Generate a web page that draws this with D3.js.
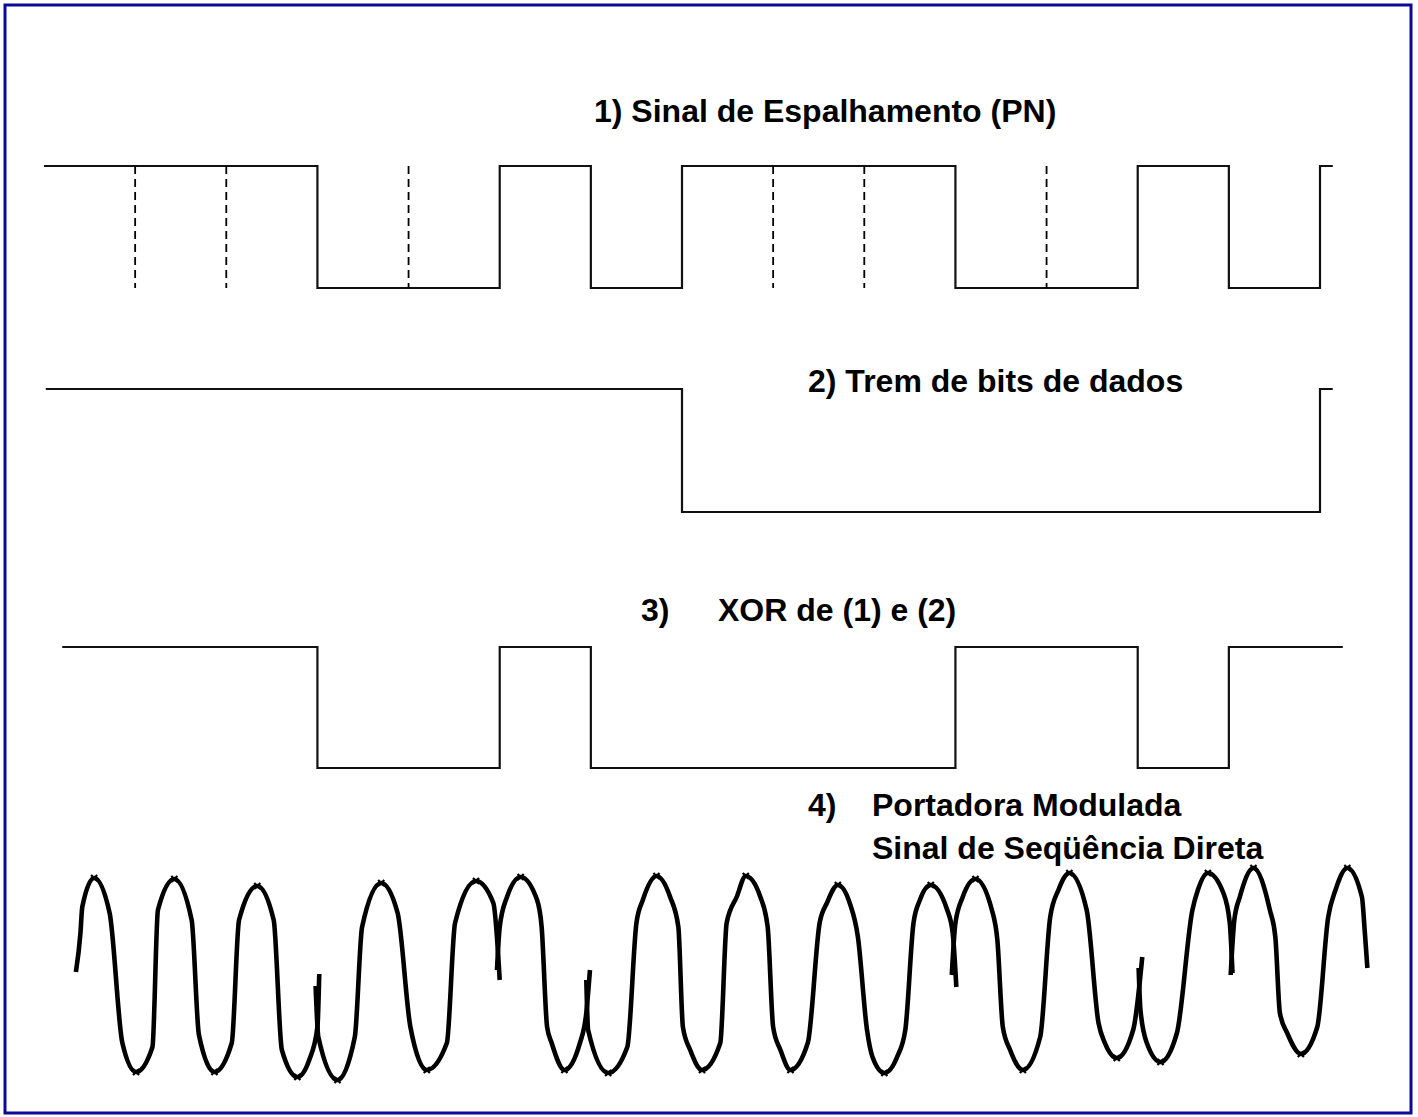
<!DOCTYPE html>
<html>
<head>
<meta charset="utf-8">
<script src="https://cdn.jsdelivr.net/npm/d3@7"></script>
<style>
  body { margin: 0; background: #fff; }
  text { font-family: "Liberation Sans", Arial, sans-serif; font-weight: bold; fill: #000; }
</style>
</head>
<body>
<svg id="chart" width="1418" height="1117"></svg>
<script>
// chips of the spreading code (1 = high), last one is the short stub at the end
const pnChips = [1, 1, 1, 0, 0, 1, 0, 1, 1, 1, 0, 0, 1, 0, 1];
const pnSpan = [0, 14.14];

// data bits, 7 chips per bit
const dataBits = [1, 0, 1];
const chipsPerBit = 7;
const dataSpan = [0.02, 14.14];

// XOR of (1) and (2) as drawn
const xorChips = [1, 1, 1, 0, 0, 1, 0, 0, 0, 0, 1, 1, 0, 1];
const xorSpan = [0.2, 14.25];

// modulated carrier, read as [chip time, amplitude] per phase segment
const carrierSeg1 = [[0.35, 0.03], [0.40, 0.42], [0.42, 0.68], [0.55, 0.97], [0.72, 0.62], [0.86, -0.68], [1.01, -0.97],
  [1.19, -0.72], [1.25, 0.65], [1.43, 0.96], [1.62, 0.55], [1.70, -0.60], [1.87, -0.97], [2.06, -0.68], [2.14, 0.55],
  [2.34, 0.89], [2.52, 0.55], [2.61, -0.75], [2.78, -1.02], [2.91, -0.85], [3.00, -0.52], [3.02, 0.01]];
const carrierSeg2 = [[2.98, -0.11], [3.01, -0.62], [3.22, -1.05], [3.41, -0.62], [3.49, 0.48], [3.70, 0.92], [3.88, 0.62],
  [4.02, -0.52], [4.20, -0.95], [4.42, -0.68], [4.51, 0.52], [4.74, 0.94], [4.93, 0.72], [5.00, -0.05]];
const carrierSeg3 = [[4.97, 0.05], [5.00, 0.48], [5.08, 0.78], [5.23, 0.98], [5.41, 0.75], [5.46, 0.48], [5.52, -0.52],
  [5.57, -0.68], [5.71, -0.95], [5.88, -0.68], [5.95, -0.38], [5.99, 0.05]];
const carrierSeg4 = [[5.95, -0.05], [5.97, -0.55], [6.19, -0.98], [6.40, -0.72], [6.50, 0.52], [6.57, 0.75], [6.72, 0.99],
  [6.87, 0.78], [6.96, 0.48], [7.01, -0.52], [7.09, -0.75], [7.22, -0.95], [7.42, -0.68], [7.49, 0.52], [7.60, 0.78],
  [7.70, 0.99], [7.86, 0.78], [7.94, 0.48], [8.00, -0.52], [8.08, -0.75], [8.19, -0.95], [8.38, -0.68], [8.51, 0.52],
  [8.59, 0.72], [8.71, 0.90], [8.84, 0.72], [8.93, 0.38], [9.03, -0.55], [9.09, -0.82], [9.22, -0.98], [9.36, -0.82],
  [9.45, -0.55], [9.54, 0.52], [9.61, 0.75], [9.73, 0.90], [9.91, 0.65], [9.97, 0.42], [10.01, -0.12]];
const carrierSeg5 = [[9.96, 0.00], [10.00, 0.52], [10.08, 0.78], [10.22, 0.96], [10.40, 0.65], [10.46, 0.35], [10.52, -0.52],
  [10.60, -0.75], [10.74, -0.95], [10.93, -0.62], [11.04, 0.58], [11.13, 0.85], [11.25, 1.02], [11.44, 0.65], [11.57, -0.48],
  [11.64, -0.68], [11.77, -0.83], [11.95, -0.55], [12.05, 0.18]];
const carrierSeg6 = [[12.01, 0.07], [12.03, -0.35], [12.10, -0.68], [12.25, -0.87], [12.43, -0.58], [12.60, 0.65],
  [12.66, 0.85], [12.77, 1.02], [12.94, 0.82], [13.01, 0.52], [13.04, 0.02]];
const carrierSeg7 = [[13.02, 0.00], [13.06, 0.55], [13.12, 0.78], [13.27, 1.07], [13.45, 0.65], [13.51, 0.38], [13.56, -0.38],
  [13.64, -0.58], [13.79, -0.79], [13.97, -0.52], [14.09, 0.58], [14.17, 0.85], [14.30, 1.07], [14.46, 0.78], [14.49, 0.45],
  [14.52, 0.07]];
const carrierSegments = [carrierSeg1, carrierSeg2, carrierSeg3, carrierSeg4, carrierSeg5, carrierSeg6, carrierSeg7];

const svg = d3.select('#chart');

const x = d3.scaleLinear().domain([0, 14]).range([44, 1320]);

// frame
svg.append('rect')
  .attr('x', 5)
  .attr('y', 5)
  .attr('width', 1406)
  .attr('height', 1108)
  .attr('fill', 'none')
  .attr('stroke', '#0a0a96')
  .attr('stroke-width', 3);

const stepPoints = (values, width, span) => {
  const pts = values.map((v, i) => [Math.max(i * width, span[0]), v]);
  pts.push([span[1], values[values.length - 1]]);
  return pts;
};

const drawSquare = (values, width, span, yHigh, yLow) => {
  const y = d3.scaleLinear().domain([0, 1]).range([yLow, yHigh]);
  const line = d3.line()
    .x(d => x(d[0]))
    .y(d => y(d[1]))
    .curve(d3.curveStepAfter);

  svg.append('path')
    .attr('d', line(stepPoints(values, width, span)))
    .attr('fill', 'none')
    .attr('stroke', '#111')
    .attr('stroke-width', 2.2);
  return y;
};

// 1) PN
const yPn = drawSquare(pnChips, 1, pnSpan, 166, 288);

// chip boundaries where the code does not change
const chipMarks = d3.range(1, 14).filter(i => pnChips[i - 1] === pnChips[i]);
svg.selectAll('.chip')
  .data(chipMarks)
  .enter()
  .append('line')
  .attr('class', 'chip')
  .attr('x1', d => x(d))
  .attr('x2', d => x(d))
  .attr('y1', yPn(1))
  .attr('y2', yPn(0))
  .attr('stroke', '#000')
  .attr('stroke-width', 1.8)
  .attr('stroke-dasharray', '8,5');

// 2) data
drawSquare(dataBits, chipsPerBit, dataSpan, 389, 512);

// 3) XOR
drawSquare(xorChips, 1, xorSpan, 647, 768);

// 4) carrier
const yCar = d3.scaleLinear().domain([-1, 1]).range([1075, 875]);
const sine = d3.line()
  .x(d => x(d[0]))
  .y(d => yCar(d[1]))
  .curve(d3.curveMonotoneX);

carrierSegments.forEach(seg => {
  svg.append('path')
    .attr('d', sine(seg))
    .attr('fill', 'none')
    .attr('stroke', '#000')
    .attr('stroke-width', 4.6)
    .attr('stroke-linejoin', 'round');

  // little crosses on the peaks and troughs
  const peaks = seg.filter((d, i) => i > 0 && i < seg.length - 1 &&
    (d[1] - seg[i - 1][1]) * (d[1] - seg[i + 1][1]) > 0);

  svg.selectAll(null)
    .data(peaks)
    .enter()
    .append('path')
    .attr('d', d3.symbol(d3.symbolTimes, 26)())
    .attr('transform', d => `translate(${x(d[0])},${yCar(d[1])})`)
    .attr('fill', 'none')
    .attr('stroke', '#000')
    .attr('stroke-width', 2.2);
});

// labels
const label = (txt, lx, ly) => {
  svg.append('text')
    .attr('x', lx)
    .attr('y', ly)
    .attr('font-size', 32)
    .text(txt);
};

label('1) Sinal de Espalhamento (PN)', 594, 122);
label('2) Trem de bits de dados', 808, 392);
label('3)', 641, 621);
label('XOR de (1) e (2)', 718, 621);
label('4)', 808, 816);
label('Portadora Modulada', 872, 816);
label('Sinal de Seqüência Direta', 872, 859);
</script>
</body>
</html>
